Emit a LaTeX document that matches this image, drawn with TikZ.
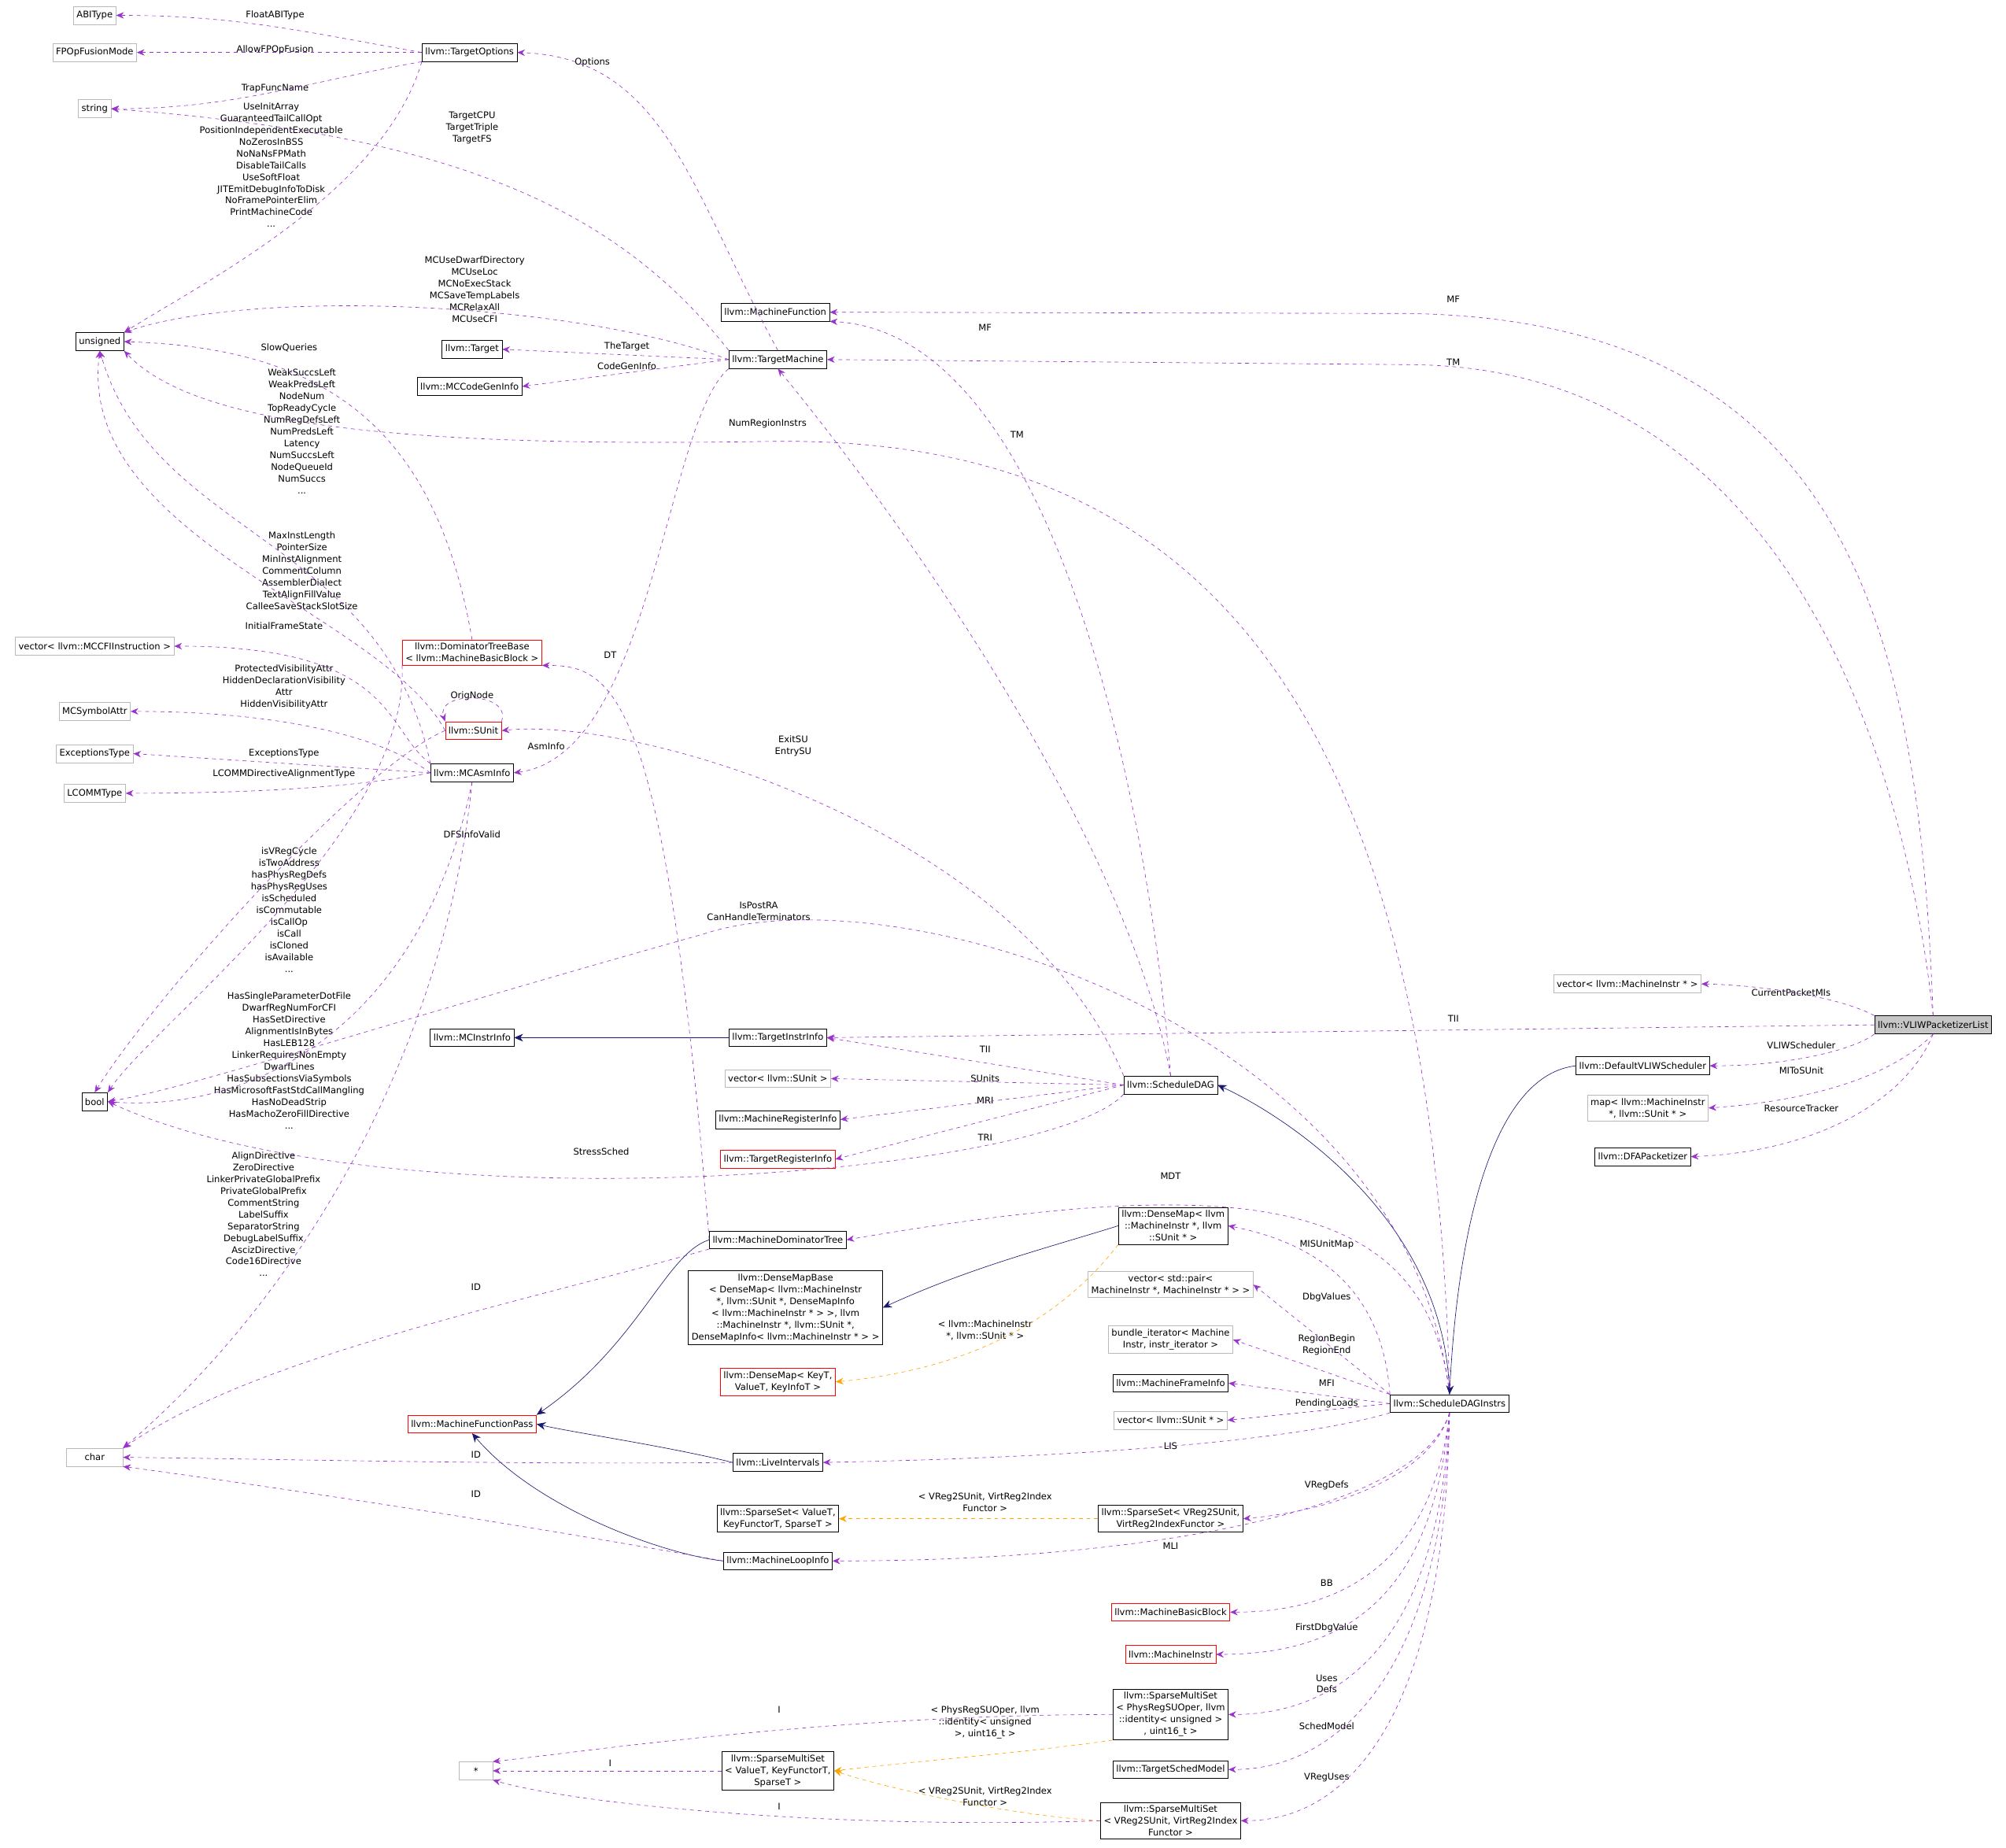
\documentclass[tikz,border=0pt]{standalone}
\usepackage{fontspec}
\setmainfont{DejaVu Sans}
\usetikzlibrary{arrows.meta}
\definecolor{mem}{HTML}{9A32CD}
\definecolor{inh}{HTML}{191970}
\definecolor{tpl}{HTML}{FFA500}
\newcommand{\ff}{\fontsize{7.1}{9.2}\selectfont}
\tikzset{
 box/.style={draw=black, fill=white, font=\ff, inner sep=2.5pt, minimum height=14pt, align=center},
 gbox/.style={box, draw=gray!55},
 rbox/.style={box, draw=red},
 vbox/.style={box, fill=gray!45},
 mem/.style={draw=mem, dashed, -{Stealth[length=6pt,width=5pt]}},
 inh/.style={draw=inh, -{Stealth[length=7pt,width=6pt]}},
 tpl/.style={draw=tpl, dashed, -{Stealth[length=6pt,width=5pt]}},
 lbl/.style={font=\ff, align=center, inner sep=0.5pt},
}
\begin{document}
\begin{tikzpicture}[x=1pt,y=-1pt]
\useasboundingbox (0,0) rectangle (1568,1444);
% nodes
\node[gbox] (abi) at (74,12) {ABIType};
\node[gbox] (fpo) at (74,41) {FPOpFusionMode};
\node[gbox] (str) at (74,85) {string};
\node[box] (uns) at (78,267) {unsigned};
\node[box] (to) at (367,41) {llvm::TargetOptions};
\node[box] (mf) at (606,244) {llvm::MachineFunction};
\node[box] (tgt) at (369,273) {llvm::Target};
\node[box] (mccg) at (367,302) {llvm::MCCodeGenInfo};
\node[box] (tm) at (608,281) {llvm::TargetMachine};
\node[gbox] (mccfi) at (74,505) {vector< llvm::MCCFIInstruction >};
\node[gbox] (msa) at (74,556) {MCSymbolAttr};
\node[gbox] (exc) at (74,589) {ExceptionsType};
\node[gbox] (lcomm) at (74,620) {LCOMMType};
\node[rbox] (dtb) at (369,510) {llvm::DominatorTreeBase\\< llvm::MachineBasicBlock >};
\node[rbox] (su) at (370,571) {llvm::SUnit};
\node[box] (mai) at (369,604) {llvm::MCAsmInfo};
\node[box] (bool) at (74,861) {bool};
\node[gbox, minimum width=44pt] (char) at (74,1139) {char};
\node[gbox, minimum width=26pt] (star) at (372,1384) {*};
\node[box] (mcii) at (369,811) {llvm::MCInstrInfo};
\node[box] (tii) at (608,811) {llvm::TargetInstrInfo};
\node[gbox] (vsu) at (608,843) {vector< llvm::SUnit >};
\node[box] (mri) at (608,875) {llvm::MachineRegisterInfo};
\node[rbox] (tri) at (608,906) {llvm::TargetRegisterInfo};
\node[box] (sdg) at (915,848) {llvm::ScheduleDAG};
\node[box] (mdt) at (608,969) {llvm::MachineDominatorTree};
\node[box] (dmb) at (614,1022) {llvm::DenseMapBase\\< DenseMap< llvm::MachineInstr\\*, llvm::SUnit *, DenseMapInfo\\< llvm::MachineInstr * > >, llvm\\::MachineInstr *, llvm::SUnit *,\\DenseMapInfo< llvm::MachineInstr * > >};
\node[rbox] (dmk) at (608,1080) {llvm::DenseMap< KeyT,\\ValueT, KeyInfoT >};
\node[rbox] (mfp) at (369,1113) {llvm::MachineFunctionPass};
\node[box] (li) at (608,1143) {llvm::LiveIntervals};
\node[box] (ssv) at (608,1187) {llvm::SparseSet< ValueT,\\KeyFunctorT, SparseT >};
\node[box] (mli) at (608,1220) {llvm::MachineLoopInfo};
\node[box] (smv) at (608,1384) {llvm::SparseMultiSet\\< ValueT, KeyFunctorT,\\SparseT >};
\node[box] (dmm) at (917,958) {llvm::DenseMap< llvm\\::MachineInstr *, llvm\\::SUnit * >};
\node[gbox] (vpair) at (915,1004) {vector< std::pair<\\MachineInstr *, MachineInstr * > >};
\node[gbox] (bit) at (915,1047) {bundle\_iterator< Machine\\Instr, instr\_iterator >};
\node[box] (mfi) at (915,1081) {llvm::MachineFrameInfo};
\node[gbox] (vsup) at (915,1110) {vector< llvm::SUnit * >};
\node[box] (ssr) at (915,1187) {llvm::SparseSet< VReg2SUnit,\\VirtReg2IndexFunctor >};
\node[rbox] (mbb) at (915,1260) {llvm::MachineBasicBlock};
\node[rbox] (mi) at (915,1293) {llvm::MachineInstr};
\node[box] (smp) at (915,1340) {llvm::SparseMultiSet\\< PhysRegSUOper, llvm\\::identity< unsigned >\\, uint16\_t >};
\node[box] (tsm) at (915,1383) {llvm::TargetSchedModel};
\node[box] (smr) at (915,1423) {llvm::SparseMultiSet\\< VReg2SUnit, VirtReg2Index\\Functor >};
\node[box] (sdi) at (1133,1097) {llvm::ScheduleDAGInstrs};
\node[vbox] (vliw) at (1511,801) {llvm::VLIWPacketizerList};
\node[gbox] (vmi) at (1272,769) {vector< llvm::MachineInstr * >};
\node[box] (dvs) at (1284,833) {llvm::DefaultVLIWScheduler};
\node[gbox] (map) at (1288,866) {map< llvm::MachineInstr\\*, llvm::SUnit * >};
\node[box] (dfa) at (1284,904) {llvm::DFAPacketizer};
% labels
\node[lbl] (l1) at (215,12) {FloatABIType};
\node[lbl] (l2) at (215,39) {AllowFPOpFusion};
\node[lbl] (l3) at (215,69) {TrapFuncName};
\node[lbl] (l4) at (212,129) {UseInitArray\\GuaranteedTailCallOpt\\PositionIndependentExecutable\\NoZerosInBSS\\NoNaNsFPMath\\DisableTailCalls\\UseSoftFloat\\JITEmitDebugInfoToDisk\\NoFramePointerElim\\PrintMachineCode\\...};
\node[lbl] (l5) at (463,49) {Options};
\node[lbl] (l6) at (369,100) {TargetCPU\\TargetTriple\\TargetFS};
\node[lbl] (l7) at (371,226) {MCUseDwarfDirectory\\MCUseLoc\\MCNoExecStack\\MCSaveTempLabels\\MCRelaxAll\\MCUseCFI};
\node[lbl] (l8) at (490,271) {TheTarget};
\node[lbl] (l9) at (490,286) {CodeGenInfo};
\node[lbl] (l10) at (226,272) {SlowQueries};
\node[lbl] (l11) at (236,337) {WeakSuccsLeft\\WeakPredsLeft\\NodeNum\\TopReadyCycle\\NumRegDefsLeft\\NumPredsLeft\\Latency\\NumSuccsLeft\\NodeQueueId\\NumSuccs\\...};
\node[lbl] (l12) at (236,446) {MaxInstLength\\PointerSize\\MinInstAlignment\\CommentColumn\\AssemblerDialect\\TextAlignFillValue\\CalleeSaveStackSlotSize};
\node[lbl] (l13) at (222,489) {InitialFrameState};
\node[lbl] (l14) at (222,537) {ProtectedVisibilityAttr\\HiddenDeclarationVisibility\\Attr\\HiddenVisibilityAttr};
\node[lbl] (l15) at (222,589) {ExceptionsType};
\node[lbl] (l16) at (222,605) {LCOMMDirectiveAlignmentType};
\node[lbl] (l17) at (369,544) {OrigNode};
\node[lbl] (l18) at (369,652) {DFSInfoValid};
\node[lbl] (l19) at (226,711) {isVRegCycle\\isTwoAddress\\hasPhysRegDefs\\hasPhysRegUses\\isScheduled\\isCommutable\\isCallOp\\isCall\\isCloned\\isAvailable\\...};
\node[lbl] (l20) at (226,829) {HasSingleParameterDotFile\\DwarfRegNumForCFI\\HasSetDirective\\AlignmentIsInBytes\\HasLEB128\\LinkerRequiresNonEmpty\\DwarfLines\\HasSubsectionsViaSymbols\\HasMicrosoftFastStdCallMangling\\HasNoDeadStrip\\HasMachoZeroFillDirective\\...};
\node[lbl] (l21) at (206,949) {AlignDirective\\ZeroDirective\\LinkerPrivateGlobalPrefix\\PrivateGlobalPrefix\\CommentString\\LabelSuffix\\SeparatorString\\DebugLabelSuffix\\AscizDirective\\Code16Directive\\...};
\node[lbl] (l22) at (427,583) {AsmInfo};
\node[lbl] (l23) at (620,583) {ExitSU\\EntrySU};
\node[lbl] (l24) at (770,256) {MF};
\node[lbl] (l25) at (795,340) {TM};
\node[lbl] (l26) at (600,331) {NumRegionInstrs};
\node[lbl] (l27) at (593,712) {IsPostRA\\CanHandleTerminators};
\node[lbl] (l28) at (770,820) {TII};
\node[lbl] (l29) at (770,843) {SUnits};
\node[lbl] (l30) at (770,860) {MRI};
\node[lbl] (l31) at (770,889) {TRI};
\node[lbl] (l32) at (470,900) {StressSched};
\node[lbl] (l33) at (477,512) {DT};
\node[lbl] (l34) at (372,1006) {ID};
\node[lbl] (l35) at (372,1137) {ID};
\node[lbl] (l36) at (372,1168) {ID};
\node[lbl] (l37) at (915,919) {MDT};
\node[lbl] (l38) at (1037,973) {MISUnitMap};
\node[lbl] (l39) at (1037,1014) {DbgValues};
\node[lbl] (l40) at (1037,1051) {RegionBegin\\RegionEnd};
\node[lbl] (l41) at (1037,1081) {MFI};
\node[lbl] (l42) at (1037,1097) {PendingLoads};
\node[lbl] (l43) at (915,1130) {LIS};
\node[lbl] (l44) at (1037,1161) {VRegDefs};
\node[lbl] (l45) at (915,1208) {MLI};
\node[lbl] (l46) at (1037,1237) {BB};
\node[lbl] (l47) at (1037,1272) {FirstDbgValue};
\node[lbl] (l48) at (1037,1316) {Uses\\Defs};
\node[lbl] (l49) at (1037,1349) {SchedModel};
\node[lbl] (l50) at (1037,1389) {VRegUses};
\node[lbl] (l51) at (770,1040) {< llvm::MachineInstr\\*, llvm::SUnit * >};
\node[lbl] (l52) at (770,1174) {< VReg2SUnit, VirtReg2Index\\Functor >};
\node[lbl] (l53) at (770,1346) {< PhysRegSUOper, llvm\\::identity< unsigned\\>, uint16\_t >};
\node[lbl] (l54) at (770,1404) {< VReg2SUnit, VirtReg2Index\\Functor >};
\node[lbl] (l55) at (609,1336) {I};
\node[lbl] (l56) at (477,1378) {I};
\node[lbl] (l57) at (609,1412) {I};
\node[lbl] (l58) at (1136,234) {MF};
\node[lbl] (l59) at (1136,283) {TM};
\node[lbl] (l60) at (1136,796) {TII};
\node[lbl] (l61) at (1400,776) {CurrentPacketMIs};
\node[lbl] (l62) at (1408,817) {VLIWScheduler};
\node[lbl] (l63) at (1408,837) {MIToSUnit};
\node[lbl] (l64) at (1408,866) {ResourceTracker};
% TargetOptions
\draw[mem] (to.west) to[out=170,in=0] (abi.east);
\draw[mem] (to.west) -- (fpo.east);
\draw[mem] (to.south west) to[out=190,in=0] (str.east);
\draw[mem] (to.south west) .. controls (300,150) and (160,220) .. (uns.north east);
% TargetMachine
\draw[mem] (tm.north) .. controls (540,150) and (520,45) .. (to.east);
\draw[mem] (tm.north west) .. controls (480,160) and (350,105) .. (str.east);
\draw[mem] (tm.west) .. controls (450,236) and (200,225) .. (uns.north east);
\draw[mem] (tm.west) -- (tgt.east);
\draw[mem] (tm.west) -- (mccg.east);
\draw[mem] (tm.south west) .. controls (520,330) and (510,590) .. (mai.east);
% MCAsmInfo
\draw[mem] (mai.north west) .. controls (300,570) and (310,505) .. (mccfi.east);
\draw[mem] (mai.west) .. controls (290,570) and (200,556) .. (msa.east);
\draw[mem] (mai.west) -- (exc.east);
\draw[mem] (mai.west) .. controls (280,615) and (200,620) .. (lcomm.east);
\draw[mem] (mai.north west) .. controls (300,420) and (120,420) .. (uns.south);
\draw[mem] (mai.south) .. controls (330,800) and (200,870) .. (bool.east);
\draw[mem] (mai.south) .. controls (350,800) and (250,1000) .. (char.north east);
% SUnit
\draw[mem] (su.north east) .. controls (400,540) and (340,540) .. (su.north west);
\draw[mem] (su.west) .. controls (300,480) and (60,420) .. (uns.south);
\draw[mem] (su.west) .. controls (280,600) and (120,780) .. (bool.north);
\draw[mem] (dtb.north) .. controls (340,330) and (250,272) .. (uns.east);
\draw[mem] (dtb.south west) .. controls (320,650) and (120,800) .. (bool.north east);
% ScheduleDAG
\draw[mem] (sdg.north) .. controls (880,650) and (700,400) .. (tm.south);
\draw[mem] (sdg.north) .. controls (900,650) and (830,260) .. (mf.south east);
\draw[mem] (sdg.north west) .. controls (800,650) and (500,560) .. (su.east);
\draw[mem] (sdg.west) -- (tii.east);
\draw[mem] (sdg.west) -- (vsu.east);
\draw[mem] (sdg.west) -- (mri.east);
\draw[mem] (sdg.west) -- (tri.east);
\draw[mem] (sdg.south west) .. controls (820,920) and (300,960) .. (bool.east);
\draw[inh] (tii.west) -- (mcii.east);
% ScheduleDAGInstrs
\draw[inh] (sdi.north) .. controls (1130,950) and (1000,870) .. (sdg.east);
\draw[mem] (sdi.north) .. controls (1120,500) and (900,340) .. (600,345) .. controls (300,350) and (150,330) .. (uns.south east);
\draw[mem] (sdi.north) .. controls (1100,800) and (700,680) .. (550,730) .. controls (300,800) and (150,850) .. (bool.east);
\draw[mem] (sdi.north) .. controls (1115,925) and (950,920) .. (mdt.east);
\draw[mem] (sdi.north west) .. controls (1080,1000) and (1020,970) .. (dmm.east);
\draw[mem] (sdi.north west) -- (vpair.east);
\draw[mem] (sdi.north west) -- (bit.east);
\draw[mem] (sdi.west) -- (mfi.east);
\draw[mem] (sdi.west) -- (vsup.east);
\draw[mem] (sdi.south west) .. controls (1000,1130) and (800,1140) .. (li.east);
\draw[mem] (sdi.south) .. controls (1120,1150) and (1050,1180) .. (ssr.east);
\draw[mem] (sdi.south) .. controls (1110,1180) and (900,1220) .. (mli.east);
\draw[mem] (sdi.south) .. controls (1120,1220) and (1050,1260) .. (mbb.east);
\draw[mem] (sdi.south) .. controls (1120,1250) and (1050,1293) .. (mi.east);
\draw[mem] (sdi.south) .. controls (1125,1280) and (1050,1340) .. (smp.east);
\draw[mem] (sdi.south) .. controls (1128,1300) and (1050,1383) .. (tsm.east);
\draw[mem] (sdi.south) .. controls (1130,1330) and (1060,1423) .. (smr.east);
% machine function passes
\draw[inh] (mdt.west) .. controls (520,980) and (500,1050) .. (mfp.north east);
\draw[inh] (li.west) .. controls (520,1130) and (450,1120) .. (mfp.east);
\draw[inh] (mli.west) .. controls (520,1215) and (420,1180) .. (mfp.south);
\draw[mem] (mdt.west) .. controls (520,540) and (480,520) .. (dtb.south east);
\draw[mem] (mdt.south west) .. controls (400,1020) and (200,1060) .. (char.north east);
\draw[mem] (li.west) .. controls (400,1145) and (200,1140) .. (char.east);
\draw[mem] (mli.west) .. controls (400,1190) and (200,1160) .. (char.south east);
% DenseMap / sparse sets
\draw[inh] (dmm.west) .. controls (820,975) and (760,990) .. (dmb.east);
\draw[tpl] (dmm.south west) .. controls (830,1030) and (760,1070) .. (dmk.east);
\draw[tpl] (ssr.west) -- (ssv.east);
\draw[tpl] (smp.south west) .. controls (800,1370) and (720,1376) .. (smv.east);
\draw[tpl] (smr.west) .. controls (800,1420) and (700,1400) .. (smv.east);
\draw[mem] (smp.west) .. controls (650,1340) and (450,1370) .. (star.north east);
\draw[mem] (smv.west) -- (star.east);
\draw[mem] (smr.west) .. controls (650,1430) and (450,1410) .. (star.south east);
% VLIW
\draw[mem] (vliw.north) .. controls (1500,500) and (1450,250) .. (1100,245) -- (mf.east);
\draw[mem] (vliw.north) .. controls (1490,600) and (1400,285) .. (1100,285) -- (tm.east);
\draw[mem] (vliw.west) -- (tii.east);
\draw[mem] (vliw.north west) .. controls (1440,780) and (1380,770) .. (vmi.east);
\draw[mem] (vliw.south west) .. controls (1450,820) and (1400,833) .. (dvs.east);
\draw[mem] (vliw.south) .. controls (1480,840) and (1420,860) .. (map.east);
\draw[mem] (vliw.south) .. controls (1490,860) and (1420,900) .. (dfa.east);
\draw[inh] (dvs.west) .. controls (1170,840) and (1140,950) .. (sdi.north);
\end{tikzpicture}
\end{document}
